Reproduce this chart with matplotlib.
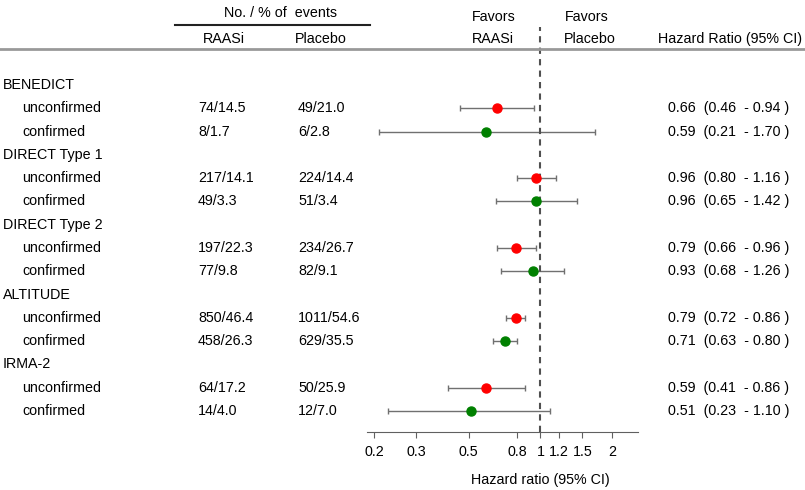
import numpy as np
import matplotlib.pyplot as plt
import matplotlib.transforms as mtransforms

plt.rcParams['font.family'] = ['Liberation Sans', 'DejaVu Sans']

studies = ['BENEDICT', 'DIRECT Type 1', 'DIRECT Type 2', 'ALTITUDE', 'IRMA-2']
subgroups = ['unconfirmed', 'confirmed']
raasi = ['74/14.5', '8/1.7', '217/14.1', '49/3.3', '197/22.3', '77/9.8',
         '850/46.4', '458/26.3', '64/17.2', '14/4.0']
placebo = ['49/21.0', '6/2.8', '224/14.4', '51/3.4', '234/26.7', '82/9.1',
           '1011/54.6', '629/35.5', '50/25.9', '12/7.0']
hr = [0.66, 0.59, 0.96, 0.96, 0.79, 0.93, 0.79, 0.71, 0.59, 0.51]
lo = [0.46, 0.21, 0.80, 0.65, 0.66, 0.68, 0.72, 0.63, 0.41, 0.23]
hi = [0.94, 1.70, 1.16, 1.42, 0.96, 1.26, 0.86, 0.80, 0.86, 1.10]
ticks = [0.2, 0.3, 0.5, 0.8, 1, 1.2, 1.5, 2]
tick_labels = ['0.2', '0.3', '0.5', '0.8', '1', '1.2', '1.5', '2']

W, H = 805, 490
fig = plt.figure(figsize=(W / 100, H / 100), dpi=100)
ax = fig.add_axes([367 / W, 1 - 432 / H, 271 / W, (432 - 48) / H])
ax.set_xscale('log')
ax.set_xlim(0.187, 2.57)
ax.set_ylim(14.90, -1.59)

fs = 10.3
tr = mtransforms.blended_transform_factory(fig.transFigure, ax.transData)

row = 0
k = 0
for s in studies:
    ax.text(3 / W, row, s, transform=tr, fontsize=fs, va='center', ha='left')
    row += 1
    for g in subgroups:
        ax.text(22 / W, row, g, transform=tr, fontsize=fs, va='center')
        ax.text(198 / W, row, raasi[k], transform=tr, fontsize=fs, va='center')
        ax.text(298 / W, row, placebo[k], transform=tr, fontsize=fs, va='center')
        ax.text(668 / W, row, '%.2f  (%.2f  - %.2f )' % (hr[k], lo[k], hi[k]),
                transform=tr, fontsize=fs, va='center')
        col = 'red' if g == 'unconfirmed' else 'green'
        ax.errorbar(hr[k], row, xerr=[[hr[k] - lo[k]], [hi[k] - hr[k]]],
                    fmt='none', ecolor='#707070', elinewidth=1, capsize=2.5, capthick=1)
        ax.plot(hr[k], row, 'o', color=col, markersize=6.5, zorder=3)
        row += 1
        k += 1

ax.plot([1, 1], [14.90, -2.5], color='#505050', lw=1.5, ls=(0, (3, 2.5)), clip_on=False)

for sp in ['top', 'left', 'right']:
    ax.spines[sp].set_visible(False)
ax.spines['bottom'].set_color('#606060')
ax.set_yticks([])
ax.set_xticks(ticks)
ax.set_xticklabels(tick_labels, fontsize=fs)
ax.minorticks_off()
ax.tick_params(axis='x', length=4, color='#606060', pad=5)
ax.set_xlabel('Hazard ratio (95% CI)', fontsize=fs)
ax.xaxis.set_label_coords((540 - 367) / 271, -(480 - 432) / (432 - 48))
ax.xaxis.label.set_va('center')

# header
fig.text(280 / W, 1 - 13 / H, 'No. / % of  events', fontsize=fs, ha='center', va='center')
fig.add_artist(plt.Line2D([175 / W, 370 / W], [1 - 25 / H, 1 - 25 / H], color='#222222', lw=1.5))
fig.text(203 / W, 1 - 39 / H, 'RAASi', fontsize=fs, va='center')
fig.text(295 / W, 1 - 39 / H, 'Placebo', fontsize=fs, va='center')
fig.text(472 / W, 1 - 17 / H, 'Favors', fontsize=fs, va='center')
fig.text(472 / W, 1 - 39 / H, 'RAASi', fontsize=fs, va='center')
fig.text(565 / W, 1 - 17 / H, 'Favors', fontsize=fs, va='center')
fig.text(564 / W, 1 - 39 / H, 'Placebo', fontsize=fs, va='center')
fig.text(658 / W, 1 - 39 / H, 'Hazard Ratio (95% CI)', fontsize=fs, va='center')
fig.add_artist(plt.Line2D([0, 1], [1 - 49 / H, 1 - 49 / H], color='#999999', lw=2))

fig.savefig('out.png', dpi=100)
